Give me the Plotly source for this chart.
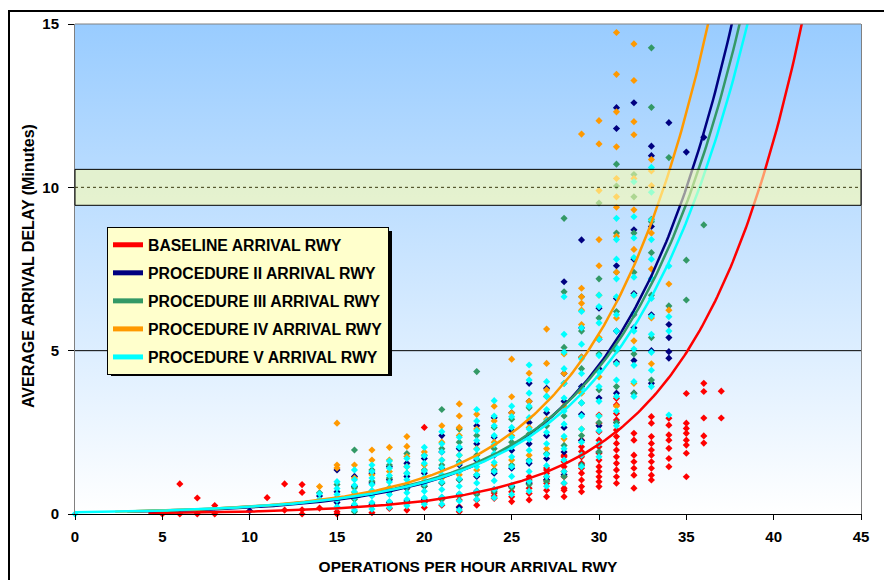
import base64
import numpy as np
import plotly.graph_objects as go

# ---------------- data ----------------
SERIES_NAMES = [
    "BASELINE ARRIVAL RWY",
    "PROCEDURE II ARRIVAL RWY",
    "PROCEDURE III ARRIVAL RWY",
    "PROCEDURE IV ARRIVAL RWY",
    "PROCEDURE V ARRIVAL RWY",
]
SERIES_COLORS = ["#FF0000", "#000080", "#339966", "#FF9900", "#00FFFF"]

# x (operations per hour) -> observed average delays (minutes)
baseline_pts = {
    5: [0.0], 6: [0.0, 0.92], 7: [0.0, 0.49], 8: [0.0, 0.26], 11: [0.5],
    12: [0.12, 0.92], 13: [0.0, 0.13, 0.66, 0.9], 14: [0.18], 15: [0.0, 0.07],
    17: [0.04], 18: [0.17], 19: [0.12, 0.33], 20: [0.2, 0.35, 2.65],
    21: [0.27, 0.45], 22: [0.07, 0.22, 0.43], 23: [0.27, 0.43, 0.64],
    24: [0.48, 0.55, 0.64], 25: [0.38, 0.53, 0.68, 0.84],
    26: [0.43, 0.63, 0.79, 0.94, 1.04, 1.14],
    27: [0.53, 0.73, 0.94, 1.04, 1.14, 1.25, 1.35, 1.41],
    28: [0.53, 0.73, 0.79, 0.94, 1.14, 1.3, 1.45, 1.6, 1.75, 1.8],
    29: [0.68, 0.84, 1.04, 1.25, 1.4, 1.55, 1.75, 1.91, 2.06, 2.26],
    30: [0.84, 0.99, 1.14, 1.3, 1.45, 1.65, 1.86, 2.06, 2.26, 2.52, 2.78, 3.03],
    31: [0.94, 1.14, 1.35, 1.55, 1.75, 1.96, 2.16, 2.37, 2.57, 2.88, 3.08, 3.34, 3.54],
    32: [0.79, 1.19, 1.4, 1.6, 1.8, 2.26, 2.47],
    33: [1.04, 1.19, 1.4, 1.6, 1.8, 1.96, 2.16, 2.37, 2.78, 2.98],
    34: [1.45, 1.7, 2.01, 2.26, 2.42, 2.72, 2.93],
    35: [1.14, 1.86, 2.11, 2.26, 2.47, 2.62, 2.78, 3.69],
    36: [2.17, 2.39, 2.94, 3.75, 4.0],
    37: [2.94, 3.76],
}
proc2_pts = {
    10: [0.1], 14: [0.55], 15: [0.35, 0.68, 1.35], 16: [0.25, 0.55, 0.85, 1.15],
    17: [0.3, 0.62, 0.95, 1.25], 18: [0.35, 0.7, 1.05, 1.45], 19: [0.4, 0.78, 1.15, 1.55],
    20: [0.45, 0.85, 1.25, 1.7], 21: [0.5, 0.95, 1.4, 1.9, 2.4], 22: [0.2, 0.6, 1.05, 1.5, 2.0],
    23: [0.7, 1.15, 1.65, 2.15, 2.7], 24: [0.75, 1.25, 1.8, 2.35, 2.95],
    25: [0.85, 1.4, 1.95, 2.55, 3.1], 26: [0.95, 1.55, 2.15, 2.8, 3.45, 4.0],
    27: [1.05, 1.7, 2.4, 3.1, 3.85], 28: [1.2, 1.9, 2.65, 3.45, 4.3, 7.11],
    29: [1.5, 2.25, 3.05, 3.9, 4.8, 5.7, 8.39], 30: [1.9, 2.7, 3.55, 4.45, 5.35, 6.3],
    31: [2.8, 3.7, 4.65, 5.6, 6.6, 7.6, 11.8, 12.44],
    32: [3.7, 4.7, 5.7, 6.75, 7.8, 8.7, 12.59],
    33: [4.0, 5.0, 6.1, 7.2, 8.8, 10.97, 11.26],
    34: [4.77, 4.97, 5.4, 5.8, 11.98], 35: [11.08], 36: [11.53],
}
proc3_pts = {
    14: [0.65], 15: [0.5, 0.9], 16: [0.07, 0.45, 0.8, 1.96], 17: [0.25, 0.6, 1.0, 1.35],
    18: [0.3, 0.7, 1.1, 1.5], 19: [0.35, 0.8, 1.25, 1.85], 20: [0.4, 0.85, 1.35, 1.8],
    21: [0.45, 0.95, 1.5, 2.0, 3.2], 22: [0.55, 1.05, 1.6, 2.2, 2.6],
    23: [0.6, 1.2, 1.8, 2.4, 4.36], 24: [0.7, 1.35, 2.0, 2.65], 25: [0.8, 1.5, 2.2, 2.9],
    26: [0.9, 1.65, 2.45, 3.25], 27: [1.0, 1.85, 2.7, 3.6],
    28: [1.15, 2.1, 3.0, 4.0, 5.1, 6.8, 9.05], 29: [1.5, 2.4, 3.4, 4.45, 5.6, 6.65],
    30: [1.9, 2.8, 3.8, 4.9, 6.0, 7.2, 9.52],
    31: [2.8, 3.9, 5.0, 6.2, 7.4, 8.6, 10.04, 10.71],
    32: [3.7, 4.9, 6.1, 7.4, 8.6, 9.71, 10.39],
    33: [4.1, 5.4, 6.7, 8.0, 8.95, 9.02, 12.45, 14.27],
    34: [6.37, 10.91], 35: [6.55, 7.77], 36: [8.85],
}
proc4_pts = {
    14: [0.84], 15: [1.41, 1.5, 2.78], 16: [0.65, 1.1, 1.5], 17: [0.7, 1.2, 1.65, 1.96],
    18: [0.8, 1.3, 1.65, 2.04], 19: [0.9, 1.45, 1.76, 2.07, 2.37], 20: [1.0, 1.5, 1.9],
    21: [1.1, 1.65, 2.2, 2.7], 22: [1.2, 1.8, 2.4, 2.65, 3.0, 3.37], 23: [1.35, 2.0, 2.6, 3.05],
    24: [1.5, 2.2, 2.85, 3.3], 25: [1.65, 2.4, 3.1, 3.59, 4.74], 26: [1.8, 2.65, 3.45, 4.31],
    27: [2.0, 2.9, 3.8, 4.61, 5.66], 28: [2.3, 3.3, 4.3, 4.9],
    29: [2.6, 3.7, 4.8, 5.8, 6.24, 6.45, 6.65, 6.91, 11.63],
    30: [3.0, 4.2, 5.4, 6.7, 7.6, 8.4, 9.9, 11.33, 12.04],
    31: [3.3, 4.6, 6.0, 7.4, 8.5, 9.39, 9.71, 10.27, 11.24, 12.31, 13.46, 14.74],
    32: [4.0, 5.3, 6.7, 8.1, 9.31, 10.27, 11.61, 12.01, 13.27, 14.39],
    33: [4.6, 6.0, 7.5, 8.6, 10.05, 10.5, 10.85], 34: [6.24, 7.04],
}
proc5_pts = {
    0: [0.0], 14: [0.45, 0.62], 15: [0.22, 0.42, 0.6, 0.78, 0.99],
    16: [0.12, 0.3, 0.5, 0.68, 0.88, 1.05, 1.35],
    17: [0.15, 0.35, 0.55, 0.72, 0.9, 1.1, 1.3, 1.5],
    18: [0.2, 0.38, 0.6, 0.8, 0.98, 1.18, 1.4, 1.62],
    19: [0.25, 0.45, 0.65, 0.85, 1.05, 1.25, 1.45, 1.7],
    20: [0.3, 0.5, 0.7, 0.92, 1.12, 1.32, 1.55, 1.78, 2.04],
    21: [0.3, 0.52, 0.75, 0.98, 1.2, 1.42, 1.65, 1.9, 2.15, 2.52],
    22: [0.12, 0.4, 0.62, 0.85, 1.08, 1.3, 1.55, 1.8, 2.05, 2.35],
    23: [0.45, 0.7, 0.95, 1.2, 1.45, 1.7, 1.98, 2.25, 2.55, 2.85, 3.2],
    24: [0.5, 0.75, 1.02, 1.3, 1.58, 1.85, 2.12, 2.4, 2.7, 3.0, 3.47],
    25: [0.6, 0.88, 1.15, 1.45, 1.75, 2.05, 2.35, 2.65, 2.98, 3.3],
    26: [0.7, 1.0, 1.3, 1.62, 1.95, 2.28, 2.6, 2.95, 3.3, 3.7, 4.1, 4.56],
    27: [0.85, 1.15, 1.48, 1.82, 2.15, 2.5, 2.85, 3.2, 3.6, 4.05],
    28: [0.95, 1.3, 1.65, 2.0, 2.38, 2.75, 3.15, 3.55, 4.0, 4.45, 4.95, 5.5, 6.65],
    29: [1.45, 1.8, 2.2, 2.6, 3.0, 3.4, 3.85, 4.3, 4.75, 5.2, 5.7, 6.2],
    30: [1.75, 2.15, 2.55, 3.0, 3.45, 3.9, 4.35, 4.85, 5.35, 5.85, 6.35, 6.7],
    31: [2.7, 3.15, 3.6, 4.1, 4.6, 5.1, 5.6, 6.1, 6.65, 7.2, 7.8, 8.4, 9.05],
    32: [3.6, 4.05, 4.55, 5.05, 5.6, 6.15, 6.7, 7.25, 7.85, 8.45, 9.1, 10.17],
    33: [3.9, 4.4, 4.95, 5.5, 6.05, 6.6, 7.2, 7.8, 8.4, 9.0, 9.85, 10.61],
    34: [3.03, 5.6, 6.04, 7.59],
}
SERIES_POINTS = [baseline_pts, proc2_pts, proc3_pts, proc4_pts, proc5_pts]

# exponential trendlines y = a * exp(b * x), coefficients
TREND_A = [0.0138, 0.0414, 0.0498, 0.0454, 0.0503]
TREND_B = [0.168, 0.1567, 0.150, 0.160, 0.148]
TREND_START = [4.2, 3.0, 3.0, 2.3, 0.0]

X_TICKS = [0, 5, 10, 15, 20, 25, 30, 35, 40, 45]
Y_TICKS = [0, 5, 10, 15]
X_TITLE = "OPERATIONS PER HOUR ARRIVAL RWY"
Y_TITLE = "AVERAGE ARRIVAL DELAY (Minutes)"
TARGET_DELAY = 10
TARGET_BAND = (9.45, 10.55)

# ---------------- layout geometry (window pixels) ----------------
W, H = 884, 580
PLOT_L, PLOT_R, PLOT_T, PLOT_B = 75, 861, 24, 514
ML, MT, MR, MB = PLOT_L, PLOT_T, W - PLOT_R, H - PLOT_B
PW, PH = PLOT_R - PLOT_L, PLOT_B - PLOT_T
FONT = "Liberation Sans, Arial, sans-serif"


def px_x(p):
    return (p - PLOT_L) / PW


def px_y(p):
    return (PLOT_B - p) / PH


fig = go.Figure()

# scatter points (drawn first, baseline at the bottom)
for name, color, pts in zip(SERIES_NAMES, SERIES_COLORS, SERIES_POINTS):
    xs, ys = [], []
    for xv, yl in pts.items():
        for yv in yl:
            xs.append(xv)
            ys.append(yv)
    fig.add_trace(go.Scatter(
        x=xs, y=ys, mode="markers", name=name, showlegend=False,
        marker=dict(symbol="diamond", size=5.5, color=color, line=dict(width=0)),
        cliponaxis=False, hoverinfo="x+y",
    ))

# trendlines (legend entries)
for i, (name, color) in enumerate(zip(SERIES_NAMES, SERIES_COLORS)):
    a, b, x0 = TREND_A[i], TREND_B[i], TREND_START[i]
    x_end = np.log(15.5 / a) / b
    xs = np.linspace(x0, x_end, 300)
    fig.add_trace(go.Scatter(
        x=xs, y=a * np.exp(b * xs), mode="lines", name=name,
        line=dict(color=color, width=2.5), legendgroup=f"g{i}",
    ))

# gradient background of plot area
svg = ('<svg xmlns="http://www.w3.org/2000/svg" width="100" height="100" preserveAspectRatio="none">'
       '<defs><linearGradient id="g" x1="0" y1="0" x2="0" y2="1">'
       '<stop offset="0" stop-color="#99CCFF"/><stop offset="1" stop-color="#FFFFFF"/>'
       '</linearGradient></defs><rect width="100" height="100" fill="url(#g)"/></svg>')
svg_uri = "data:image/svg+xml;base64," + base64.b64encode(svg.encode()).decode()

shapes = [
    # gridline at 5
    dict(type="line", xref="paper", yref="y", x0=0, x1=1, y0=5, y1=5,
         line=dict(color="black", width=1), layer="below"),
    # target band
    dict(type="rect", xref="paper", yref="y", x0=0, x1=1,
         y0=TARGET_BAND[0], y1=TARGET_BAND[1],
         fillcolor="rgba(255,255,175,0.6)", line=dict(color="black", width=1), layer="above"),
    dict(type="line", xref="paper", yref="y", x0=0, x1=1, y0=TARGET_DELAY, y1=TARGET_DELAY,
         line=dict(color="#3a3a10", width=1, dash="dot"), layer="above"),
    # top border of plot area
    dict(type="line", xref="paper", yref="paper", x0=0, x1=1, y0=1, y1=1,
         line=dict(color="#808080", width=1), layer="above"),
    # legend shadow
    dict(type="rect", xref="paper", yref="paper", x0=px_x(111), x1=px_x(392),
         y0=px_y(376), y1=px_y(231), fillcolor="black", line=dict(width=0), layer="above"),
    # outer chart frame
    dict(type="rect", xref="paper", yref="paper", x0=px_x(9), x1=px_x(900),
         y0=px_y(600), y1=px_y(11), line=dict(color="black", width=2), fillcolor="rgba(0,0,0,0)",
         layer="above"),
]

fig.update_layout(
    width=W, height=H,
    margin=dict(l=ML, r=MR, t=MT, b=MB, pad=0),
    paper_bgcolor="white",
    plot_bgcolor="rgba(0,0,0,0)",
    font=dict(family=FONT, color="black", size=15),
    showlegend=True,
    legend=dict(
        x=px_x(107), y=px_y(227), xanchor="left", yanchor="top",
        bgcolor="#FFFFCC", bordercolor="black", borderwidth=1,
        font=dict(family=FONT, size=15.8, color="black", weight="bold"),
        tracegroupgap=4.5, itemsizing="constant",
    ),
    images=[dict(source=svg_uri, xref="paper", yref="paper", x=0, y=1, sizex=1, sizey=1,
                 sizing="stretch", layer="below")],
    shapes=shapes,
    annotations=[
        dict(text=Y_TITLE, xref="paper", yref="paper", x=px_x(28), y=px_y(266),
             xanchor="center", yanchor="middle", textangle=-90, showarrow=False,
             font=dict(family=FONT, size=16, weight="bold")),
    ],
)

fig.update_xaxes(
    range=[0, 45], tickvals=X_TICKS, showgrid=False, zeroline=False, automargin=False,
    showline=True, linecolor="black", linewidth=1,
    ticks="outside", ticklen=5, tickcolor="black", ticklabelstandoff=4,
    tickfont=dict(family=FONT, size=15, weight="bold"),
    title=dict(text=X_TITLE, font=dict(family=FONT, size=15.5, weight="bold"), standoff=17),
)
fig.update_yaxes(
    range=[0, 15], tickvals=Y_TICKS, showgrid=False, zeroline=False, automargin=False,
    showline=True, linecolor="#808080", linewidth=1, mirror=True,
    ticks="outside", ticklen=6, tickcolor="black", ticklabelstandoff=6,
    tickfont=dict(family=FONT, size=15, weight="bold"),
)

# remove the default page margin so the figure sits at the window origin
fig.write_html(
    "out.html",
    config={"displayModeBar": False},
    post_script="document.body.style.margin='0';document.body.style.overflow='hidden';",
)
